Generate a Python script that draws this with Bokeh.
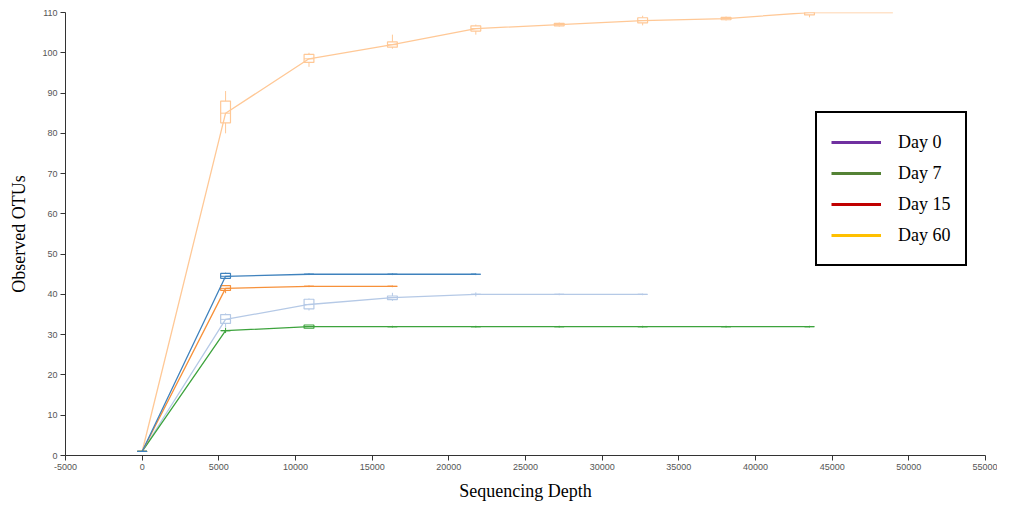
import numpy as np
from bokeh.plotting import figure
from bokeh.models import Range1d, FixedTicker, Legend, LegendItem, ColumnDataSource
from bokeh.embed import file_html
from bokeh.resources import INLINE

# ---- data ----
depths = [0, 5440, 10880, 16320, 21760, 27200, 32640, 38080, 43520, 48960]

peach_mean = [1, 85, 98.5, 102, 106, 107, 108, 108.5, 110, 110]
peach_q1 = [1, 82.6, 97.6, 101.4, 105.4, 106.7, 107.4, 108.2, 109.4, 110]
peach_q3 = [1, 88, 99.6, 102.7, 106.7, 107.3, 108.7, 108.8, 110.5, 110]
peach_lo = [1, 80, 96.5, 101, 104.5, 106.5, 106.8, 108, 108.8, 110]
peach_hi = [1, 90.5, 100, 104.5, 107, 107.5, 109.2, 109, 110.8, 110]

blue_mean = [1, 44.5, 45, 45, 45]
blue_q1 = [1, 44.0, 45, 45, 45]
blue_q3 = [1, 45.2, 45, 45, 45]
blue_lo = [1, 43.8, 44.8, 44.8, 44.8]
blue_hi = [1, 45.4, 45.2, 45.2, 45.2]

orange_mean = [1, 41.5, 42, 42]
orange_q1 = [1, 41.0, 42, 42]
orange_q3 = [1, 42.2, 42, 42]
orange_lo = [1, 40.3, 41.8, 41.8]
orange_hi = [1, 42.3, 42.2, 42.2]

lblue_mean = [1, 33.8, 37.5, 39.2, 40, 40, 40]
lblue_q1 = [1, 32.8, 36.4, 38.7, 40, 40, 40]
lblue_q3 = [1, 35.0, 38.8, 39.6, 40, 40, 40]
lblue_lo = [1, 31.8, 36.0, 38.4, 39.5, 39.8, 39.8]
lblue_hi = [1, 35.3, 39.0, 40.4, 40.5, 40.2, 40.2]

green_mean = [1, 31, 32, 32, 32, 32, 32, 32, 32]
green_q1 = [1, 31, 31.6, 32, 32, 32, 32, 32, 32]
green_q3 = [1, 31, 32.4, 32, 32, 32, 32, 32, 32]
green_lo = [1, 30.4, 31.6, 31.8, 31.8, 31.8, 31.8, 31.8, 31.8]
green_hi = [1, 31.7, 32.4, 32.2, 32.2, 32.2, 32.2, 32.2, 32.2]

series = [
    ("peach", "#ffc896", peach_mean, peach_q1, peach_q3, peach_lo, peach_hi),
    ("lblue", "#b5c9e6", lblue_mean, lblue_q1, lblue_q3, lblue_lo, lblue_hi),
    ("green", "#3da33d", green_mean, green_q1, green_q3, green_lo, green_hi),
    ("orange", "#f7913a", orange_mean, orange_q1, orange_q3, orange_lo, orange_hi),
    ("blue", "#3f82bd", blue_mean, blue_q1, blue_q3, blue_lo, blue_hi),
]

legend_labels = ["Day 0", "Day 7", "Day 15", "Day 60"]
legend_colors = ["#7030a0", "#548235", "#c00000", "#ffc000"]

x_ticks = list(range(-5000, 55001, 5000))
y_ticks = list(range(0, 111, 10))

# ---- figure ----
p = figure(width=997, height=503, output_backend="svg", toolbar_location=None,
           x_range=Range1d(-5000, 55000), y_range=Range1d(0, 110),
           min_border_left=65, min_border_right=12, min_border_top=12, min_border_bottom=48)
p.outline_line_color = None
p.grid.visible = False
p.background_fill_color = "white"

box_w = 640
for name, col, mean, q1, q3, lo, hi in series:
    n = len(mean)
    xs = np.array(depths[:n], dtype=float)
    p.line(xs, mean, line_color=col, line_width=1.3)
    q1a, q3a, loa, hia, ma = map(np.array, (q1, q3, lo, hi, mean))
    mask = np.ones(n, dtype=bool)
    if name == "peach":
        mask[-1] = False
    src = ColumnDataSource(dict(x=xs[mask], q1=q1a[mask], q3=q3a[mask],
                                lo=loa[mask], hi=hia[mask], m=ma[mask],
                                l=xs[mask] - box_w / 2, r=xs[mask] + box_w / 2))
    p.segment(x0="x", y0="lo", x1="x", y1="q1", source=src, line_color=col, line_width=1)
    p.segment(x0="x", y0="q3", x1="x", y1="hi", source=src, line_color=col, line_width=1)
    p.quad(left="l", right="r", bottom="q1", top="q3", source=src,
           fill_alpha=0, line_color=col, line_width=1.2)
    p.segment(x0="l", y0="m", x1="r", y1="m", source=src, line_color=col, line_width=1)

# legend with placeholder renderers (no visible data)
items = []
for lab, c in zip(legend_labels, legend_colors):
    r = p.line(np.array([np.nan]), np.array([np.nan]), line_color=c, line_width=3)
    items.append(LegendItem(label=lab, renderers=[r]))
leg = Legend(items=items, location=(750, 189), glyph_width=50, glyph_height=30,
             label_height=30, spacing=1, padding=14, label_standoff=17,
             label_text_font="Liberation Serif", label_text_font_size="18px",
             label_text_color="black", border_line_color="black", border_line_width=2,
             border_line_alpha=1, background_fill_alpha=1, margin=0)
p.add_layout(leg, "center")

for ax in (p.xaxis[0], p.yaxis[0]):
    ax.major_label_text_font = "Liberation Sans"
    ax.major_label_text_font_size = "9px"
    ax.major_label_text_color = "#555555"
    ax.axis_line_color = "#333333"
    ax.major_tick_line_color = "#333333"
    ax.minor_tick_line_color = None
    ax.major_tick_out = 5
    ax.major_tick_in = 0
    ax.axis_label_text_font = "Liberation Serif"
    ax.axis_label_text_font_size = "18px"
    ax.axis_label_text_font_style = "normal"
    ax.axis_label_text_color = "black"

p.xaxis.ticker = FixedTicker(ticks=x_ticks)
p.yaxis.ticker = FixedTicker(ticks=y_ticks)
p.xaxis.major_label_overrides = {t: str(t) for t in x_ticks}
p.xaxis.axis_label = "Sequencing Depth"
p.yaxis.axis_label = "Observed OTUs"
p.xaxis.axis_label_standoff = 8
p.yaxis.axis_label_standoff = 10
p.xaxis.major_label_standoff = 3
p.yaxis.major_label_standoff = 3

open("out.html", "w").write(file_html(p, INLINE))
